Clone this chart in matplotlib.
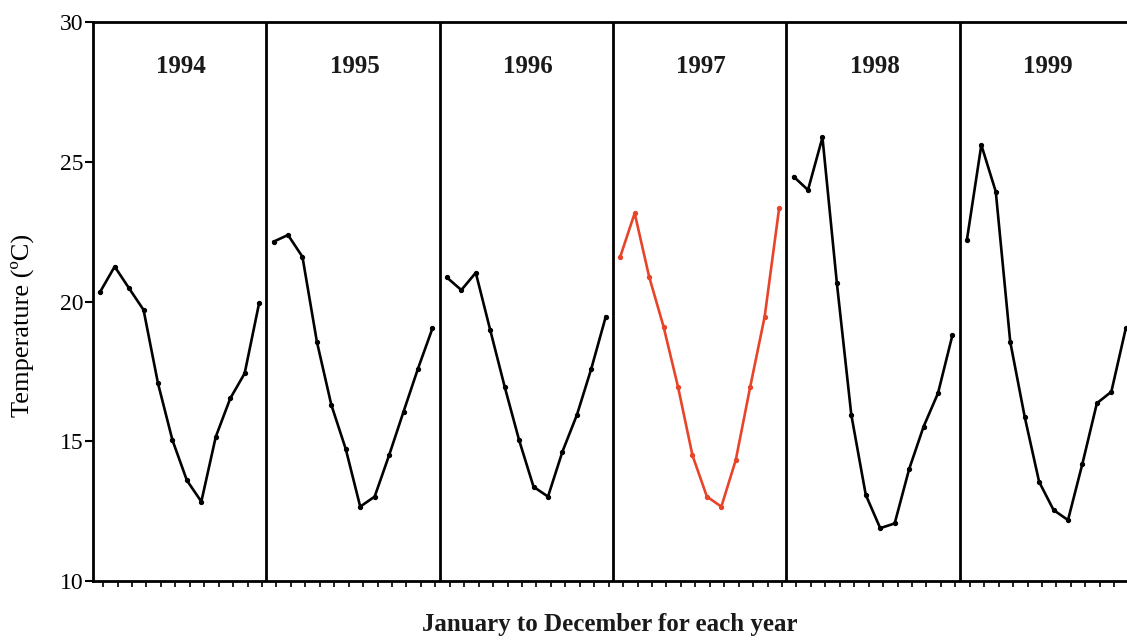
import numpy as np
import matplotlib.pyplot as plt

# monthly temperatures (Jan..Dec)
years = ["1994", "1995", "1996", "1997", "1998", "1999"]
t1994 = [20.35, 21.25, 20.47, 19.7, 17.07, 15.04, 13.6, 12.84, 15.16, 16.53, 17.43, 19.94]
t1995 = [22.14, 22.38, 21.6, 18.56, 16.3, 14.72, 12.66, 13.02, 14.5, 16.06, 17.6, 19.04]
t1996 = [20.86, 20.41, 21.03, 18.98, 16.95, 15.04, 13.37, 13.02, 14.63, 15.94, 17.6, 19.46]
t1997 = [21.6, 23.16, 20.89, 19.1, 16.95, 14.5, 13.02, 12.66, 14.33, 16.95, 19.46, 23.33]
t1998 = [24.47, 23.99, 25.87, 20.65, 15.94, 13.08, 11.89, 12.06, 14.0, 15.52, 16.72, 18.8]
t1999 = [22.2, 25.6, 23.93, 18.56, 15.88, 13.55, 12.54, 12.18, 14.2, 16.36, 16.77, 19.04]
series = [t1994, t1995, t1996, t1997, t1998, t1999]
colors = ["black", "black", "black", "#e8442a", "black", "black"]

plt.rcParams['font.family'] = ['Liberation Serif', 'DejaVu Serif']

W, H = 1127, 640
fig = plt.figure(figsize=(W / 100, H / 100), dpi=100)
# axes runs past the right edge of the figure, like the cropped original
left, right, top, bottom = 93, 1133, 22, 581
ax = fig.add_axes([left / W, 1 - bottom / H, (right - left) / W, (bottom - top) / H])

months = np.arange(12)
for i, (yr, vals, c) in enumerate(zip(years, series, colors)):
    x = 12 * i + months
    ax.plot(x, vals, color=c, lw=1.9, marker='o', ms=2.8, mfc=c, mec=c)
    ax.text(12 * i + 5.6, 28.4, yr, ha='center', va='center', fontsize=18, weight='bold', color='#1a1a1a')
    if i > 0:
        ax.axvline(12 * i - 0.5, color='black', lw=2)

ax.set_xlim(-0.5, 71.5)
ax.set_ylim(10, 30)
ax.set_yticks([10, 15, 20, 25, 30])
ax.set_xticks([])
ax.set_xticks(np.arange(72) + 0.2, minor=True)
ax.tick_params(axis='y', direction='out', length=6, width=1.5, labelsize=17, pad=1)
ax.tick_params(axis='x', which='minor', direction='out', length=4, width=1.2)
for s in ax.spines.values():
    s.set_linewidth(2)

fig.text(610 / W, 1 - 625 / H, "January to December for each year", ha='center', va='center',
         fontsize=18, weight='bold', color='#1a1a1a')
fig.text(22 / W, 1 - 325 / H, "Temperature (\u00baC)", ha='center', va='center', rotation=90, fontsize=19)

fig.savefig("out.png", dpi=100)
